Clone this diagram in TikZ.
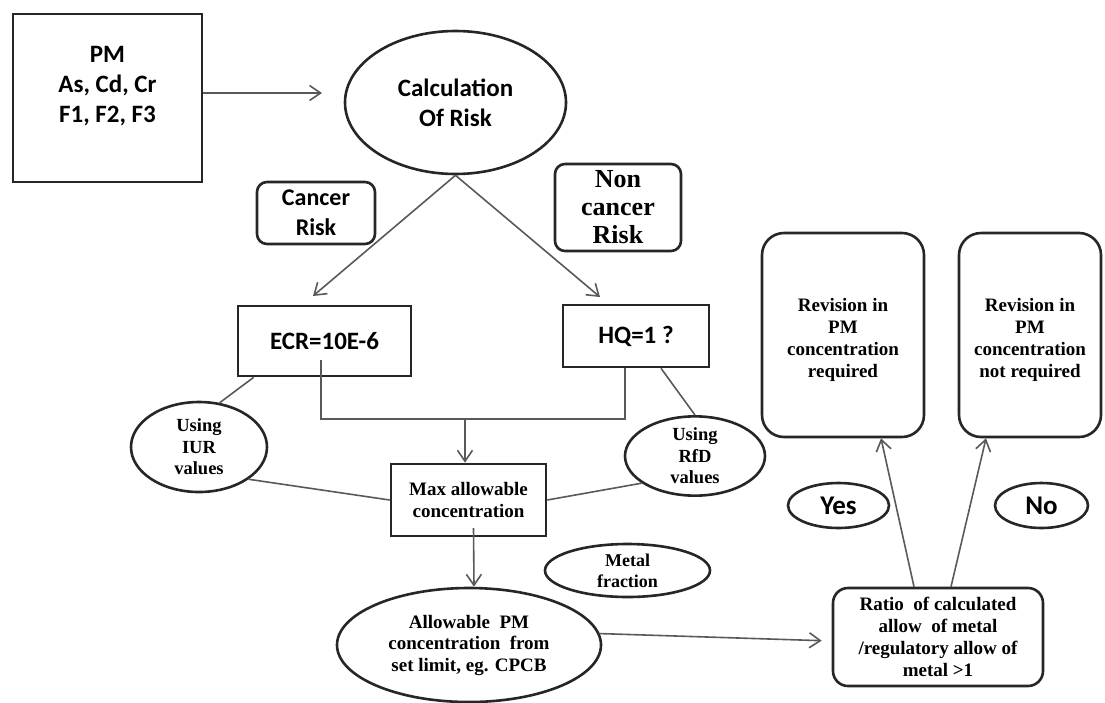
\documentclass[tikz,border=0pt]{standalone}
\usepackage{fontspec}
\usepackage{tikz}
\usetikzlibrary{shapes.geometric}
\usetikzlibrary{arrows.meta}
\newfontfamily\calibfont{Carlito}
\newfontfamily\timesfont{Liberation Serif}

\begin{document}
\begin{tikzpicture}[x=1pt,y=-1pt,>={Straight Barb[length=11pt,width=15pt]}]
      \tikzstyle{every node}=[inner sep=0pt,align=center]
      \tikzstyle{blk}=[draw=black!85,line width=2.6pt,fill=white]
      \tikzstyle{sq}=[blk,rectangle]
      \tikzstyle{rnd}=[blk,rectangle,rounded corners=10pt]
      \tikzstyle{oval}=[blk,ellipse]
      \tikzstyle{cal}=[font=\calibfont\bfseries\fontsize{25}{30}\selectfont]
      \tikzstyle{tms}=[font=\timesfont\bfseries\fontsize{19}{22}\selectfont]
      \tikzstyle{wire}=[draw=black!65,line width=1.6pt]
      \useasboundingbox (0,0) rectangle (1105,702);

      % top row
      \node[sq,minimum width=189,minimum height=168,
            label={[cal,yshift=12pt]center:{PM\\As, Cd, Cr\\F1, F2, F3}}]
            (pm) at (107.5,98) {};
      \node[oval,cal,minimum width=221,minimum height=143] (calc) at (455.5,102.5) {Calculation\\Of Risk};
      \node[rnd,cal,font=\calibfont\bfseries\fontsize{24}{30}\selectfont,minimum width=118,minimum height=62] (canc) at (316,213) {Cancer\\Risk};
      \node[rnd,tms,font=\timesfont\bfseries\fontsize{26}{28}\selectfont,minimum width=126,minimum height=87] (noncanc) at (618,207.5) {Non\\cancer\\Risk};

      % criteria
      \node[sq,cal,minimum width=173,minimum height=70] (ecr) at (324.5,341) {ECR=10E-6};
      \node[sq,cal,minimum width=146,minimum height=62] (hq)  at (636,336) {HQ=1 ?};
      \node[oval,tms,font=\timesfont\bfseries\fontsize{18.5}{21.5}\selectfont,minimum width=136,minimum height=90] (iur) at (199,447) {Using\\IUR\\values};
      \node[oval,tms,font=\timesfont\bfseries\fontsize{18.5}{21.5}\selectfont,minimum width=140,minimum height=74] (rfd) at (695,456) {Using\\RfD\\values};
      \node[sq,tms,minimum width=155,minimum height=72] (maxc) at (468.5,500) {Max allowable\\concentration};
      \node[oval,tms,font=\timesfont\bfseries\fontsize{18}{21}\selectfont,minimum width=165,minimum height=53] (metal) at (627.5,570.5) {Metal\\fraction};
      \node[oval,tms,font=\timesfont\bfseries\fontsize{19}{21.5}\selectfont,minimum width=264,minimum height=114] (allow) at (469,645) {Allowable~~PM\\concentration~~from\\set limit, eg. CPCB};

      % decision
      \node[rnd,tms,rounded corners=15pt,minimum width=210,minimum height=98] (ratio) at (938,637) {Ratio~~of calculated\\allow~~of metal\\/regulatory allow of\\metal >1};
      \node[rnd,rounded corners=22pt,minimum width=162,minimum height=204,
            label={[tms,yshift=-5pt]center:{Revision in\\PM\\concentration\\required}}]
            (rev1) at (843,335) {};
      \node[rnd,rounded corners=22pt,minimum width=142,minimum height=204,
            label={[tms,yshift=-5pt]center:{Revision in\\PM\\concentration\\not required}}]
            (rev2) at (1030,335) {};
      \node[oval,cal,font=\calibfont\bfseries\fontsize{27}{30}\selectfont,minimum width=101,minimum height=45] (yes) at (838.5,505.5) {Yes};
      \node[oval,cal,font=\calibfont\bfseries\fontsize{27}{30}\selectfont,minimum width=93,minimum height=45] (no) at (1041.5,505.5) {No};

      \coordinate (pmend) at (322,93);
      \coordinate (ecrtip) at (313,296);
      \coordinate (hqtip) at (600,297);
      \coordinate (ecrin) at (321,360);
      \coordinate (join) at (465,419);

      \draw[wire,->] (pm.east |- pmend) -- (pmend);
      \draw[wire,->] (calc.south) -- (ecrtip);
      \draw[wire,->] (calc.south) -- (hqtip);
      \draw[wire] (ecrin) |- ([xshift=-11pt]hq.south |- join) -- ([xshift=-11pt]hq.south);
      \draw[wire,->] (join) -- (join |- maxc.north);
      \draw[wire] ([xshift=17pt]ecr.south west) -- (iur.65);
      \draw[wire] ([xshift=25pt]hq.south) -- (rfd.north);
      \draw[wire] (iur.327) -- (maxc.west);
      \draw[wire] (maxc.east) -- (rfd.207);
      \draw[wire,->] ([xshift=5pt,yshift=-28pt]maxc.center) -- ([xshift=5pt]allow.north);
      \draw[wire,->,shorten >=10pt] (allow.5) -- ([yshift=-4pt]ratio.west);
      \draw[wire,->] ([xshift=-24pt]ratio.north) -- ([xshift=38pt]rev1.south);
      \draw[wire,->] ([xshift=13pt]ratio.north) -- ([xshift=-44pt]rev2.south);
\end{tikzpicture}
\end{document}
